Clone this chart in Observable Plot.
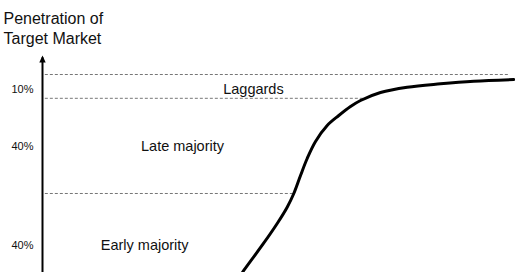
<!DOCTYPE html>
<html>
<head>
<meta charset="utf-8">
<script src="https://cdn.jsdelivr.net/npm/d3@7"></script>
<script src="https://cdn.jsdelivr.net/npm/@observablehq/plot@0.6"></script>
<style>
  body { margin: 0; background: #fff; }
  #chart { width: 520px; height: 272px; overflow: hidden; }
</style>
</head>
<body>
<div id="chart"></div>
<script>
// Adoption curve (time 0..100, cumulative penetration %)
const curveX = [41.86, 42.56, 46.72, 49.62, 51.73, 53.13, 54.55, 55.96, 57.72, 60.19, 62.64, 65.12, 67.23, 71.46, 77.10, 84.14, 91.19, 99.64];
const curveY = [15.55, 17.65, 28.99, 37.39, 44.24, 50.0, 57.56, 64.71, 71.85, 78.57, 82.77, 86.55, 89.08, 92.44, 94.66, 96.09, 97.18, 97.90];

// Segment thresholds (cumulative %)
const thresholdValues = [100, 90, 50];
const thresholdStartX = [0.6, 0.6, 0.6];
const thresholdEndX = [98.5, 68.0, 53.1];

// Segment names and shares
const segmentNames = ["Laggards", "Late majority", "Early majority"];
const segmentShares = ["10%", "40%", "40%"];
const segmentNameX = [44.6, 29.6, 21.6];
const segmentLabelY = [93.6, 69.7, 28.2];

const titleText = "Penetration of\nTarget Market";
const axisBottom = 10;
const axisTop = 108;

const curve = curveX.map((x, i) => ({x, y: curveY[i]}));
const thresholds = thresholdValues.map((v, i) => ({v, x1: thresholdStartX[i], x2: thresholdEndX[i]}));
const segments = segmentNames.map((name, i) => ({name, share: segmentShares[i], x: segmentNameX[i], y: segmentLabelY[i]}));

const arrowHead = {
  draw(context) {
    context.moveTo(0, 0);
    context.lineTo(3.2, 7);
    context.lineTo(-3.2, 7);
    context.closePath();
  }
};

const chart = Plot.plot({
  width: 520,
  height: 272,
  marginLeft: 42,
  marginRight: 5,
  marginTop: 0,
  marginBottom: 0,
  x: {domain: [0, 100], axis: null},
  y: {domain: [16.8, 131.1], axis: null},
  style: {fontFamily: "'Liberation Sans', Arial, sans-serif", background: "white", color: "#111"},
  marks: [
    Plot.ruleY(thresholds, {y: "v", x1: "x1", x2: "x2", stroke: "#777", strokeWidth: 1, strokeDasharray: "3,2"}),
    Plot.ruleX([0], {y1: axisBottom, y2: axisTop - 1, stroke: "#000", strokeWidth: 2}),
    Plot.dot([{x: 0, y: axisTop}], {x: "x", y: "y", symbol: arrowHead, fill: "#000", stroke: "none"}),
    Plot.line(curve, {x: "x", y: "y", curve: "catmull-rom", stroke: "#000", strokeWidth: 3, clip: true}),
    Plot.text(segments, {x: 0, y: "y", text: "share", textAnchor: "end", dx: -9, fontSize: 11}),
    Plot.text(segments, {x: "x", y: "y", text: "name", fontSize: 14.5}),
    Plot.text([titleText], {frameAnchor: "top-left", text: d => d, dx: -39, dy: 9.5, lineAnchor: "top", textAnchor: "start", fontSize: 16, lineHeight: 1.25})
  ]
});
document.getElementById("chart").appendChild(chart);
</script>
</body>
</html>
